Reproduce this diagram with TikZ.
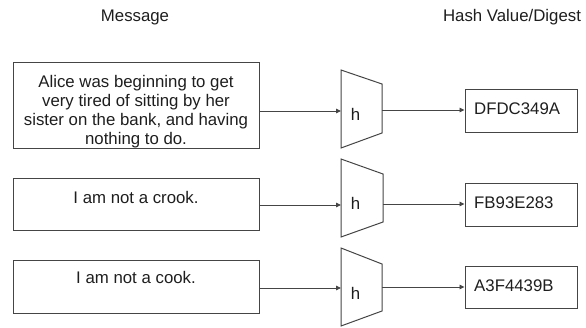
\documentclass[tikz,border=0pt]{standalone}
\usepackage{fontspec}
\setmainfont{Liberation Sans}
\usetikzlibrary{arrows.meta}

\definecolor{edge}{HTML}{454545}
\definecolor{ink}{HTML}{1E1E1E}

\tikzset{
  msgbox/.style={draw=edge, line width=1pt, rectangle, inner sep=0pt},
  hashbox/.style={draw=edge, line width=1pt, rectangle, inner sep=0pt},
  label/.style={text=ink, inner sep=0pt, font=\fontsize{16.8}{19.2}\selectfont},
  funnel/.style={draw=edge, line width=1pt, line join=miter},
  link/.style={draw=edge, line width=0.9pt, -{Triangle[length=5pt,width=4.5pt]}},
}

\begin{document}
\begin{tikzpicture}[x=1pt, y=-1pt]
\useasboundingbox (0,0) rectangle (586,327);

% column headings
\node[label, anchor=base] (hmsg) at (135,21) {Message};
\node[label, anchor=base] (hdig) at (512,21) {Hash Value/Digest};

% message boxes
\node[msgbox, minimum width=246pt, minimum height=86pt] (m1) at (136,105) {};
\node[msgbox, minimum width=246pt, minimum height=52pt] (m2) at (136,204) {};
\node[msgbox, minimum width=246pt, minimum height=53pt] (m3) at (136,286.5) {};

\node[label, anchor=north, align=center] (m1t) at (136,75)
  {Alice was beginning to get\\very tired of sitting by her\\sister on the bank, and having\\nothing to do.};
\node[label, anchor=base] (m2t) at (136,203.5) {I am not a crook.};
\node[label, anchor=base] (m3t) at (136,283) {I am not a cook.};

% hash function blocks
\draw[funnel] (341,70) -- (382,84) -- (382,133) -- (341,148) -- cycle;
\draw[funnel] (341,159) -- (383,174) -- (383,222) -- (341,237) -- cycle;
\draw[funnel] (341,248) -- (382,264) -- (382,311) -- (341,326) -- cycle;

\node[label, anchor=base] (h1) at (355.5,120) {h};
\node[label, anchor=base] (h2) at (355.5,209) {h};
\node[label, anchor=base] (h3) at (355.5,299) {h};

\coordinate (f1in) at (341,111);
\coordinate (f2in) at (341,205);
\coordinate (f3in) at (341,288);
\coordinate (f1out) at (382,110);
\coordinate (f2out) at (383,204);
\coordinate (f3out) at (382,287);

% digest boxes
\node[hashbox, minimum width=112pt, minimum height=43pt] (d1) at (521,110.5) {};
\node[hashbox, minimum width=112pt, minimum height=43pt] (d2) at (521,204.5) {};
\node[hashbox, minimum width=112pt, minimum height=42pt] (d3) at (521,287) {};

\node[label, anchor=base west] (d1t) at (474,114) {DFDC349A};
\node[label, anchor=base west] (d2t) at (474,208) {FB93E283};
\node[label, anchor=base west] (d3t) at (474,291) {A3F4439B};

% connectors
\draw[link] (m1.east |- f1in) -- (f1in);
\draw[link] (m2.east |- f2in) -- (f2in);
\draw[link] (m3.east |- f3in) -- (f3in);
\draw[link] (f1out) -- (d1.west |- f1out);
\draw[link] (f2out) -- (d2.west |- f2out);
\draw[link] (f3out) -- (d3.west |- f3out);
\end{tikzpicture}
\end{document}
